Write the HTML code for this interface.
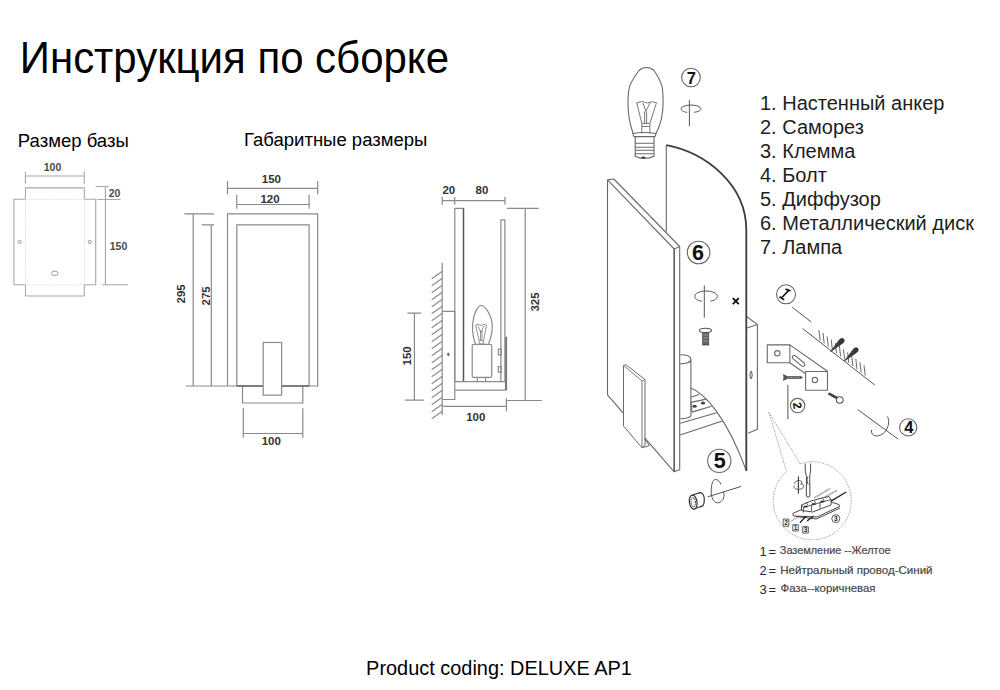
<!DOCTYPE html>
<html><head><meta charset="utf-8">
<style>
html,body{margin:0;padding:0;background:#fff;width:1000px;height:690px;overflow:hidden}
svg{position:absolute;left:0;top:0;display:block}
text{font-family:"Liberation Sans",sans-serif}
</style></head><body>
<svg width="1000" height="690" viewBox="0 0 1000 690">
<!-- BASE SIZE -->
<g fill="none" stroke="#a8a8a8" stroke-width="1.1">
<path d="M25.4 176H84.3M25.4 171.5V183.8M84.3 171.5V183.8"/>
<path d="M25.5 199.3V187.9H84.3V199.3M13.9 284.8V199.3H25.5M84.3 199.3H95.7V284.8H84.3V296H25.5V284.8H13.9"/>
<path d="M95.6 186.5H108.7M105.4 186.5V284.8M97 199.5H120.6M102 284.8H128"/>
</g>
<g fill="none" stroke="#e2e2e2" stroke-width="1" stroke-dasharray="2 1">
<path d="M25.5 199.3H84.3M25.5 199.3V284.8M84.3 199.3V284.8M25.5 284.8H84.3"/>
</g>
<g fill="none" stroke="#9a9a9a" stroke-width="1">
<circle cx="19.6" cy="242" r="1.6"/><circle cx="89.8" cy="242" r="1.6"/>
<ellipse cx="54.8" cy="273.3" rx="3.3" ry="2.3"/>
</g>
<!-- FRONT VIEW -->
<g fill="none" stroke="#8a8a8a" stroke-width="1.2">
<path d="M227.5 188.3H317.7M227.5 180.9V194.3M317.7 180.9V194.3"/>
<path d="M236.8 204.5H309.1M236.8 194.8V208.7M309.1 194.8V208.7"/>
<path d="M227.5 386V213.8H317.7V386M236.8 386V224.9H309.1V386"/>
<path d="M185.8 386H318.4"/>
<path d="M193.2 386V213.8M184.4 213.8H214M211.3 386V224.9M201.8 224.9H214"/>
<path d="M242.5 386V403H302.8V386"/>
<path d="M243.3 408.3V437.8M302.8 408.3V437.8M243.3 433.5H302.8"/>
</g>
<path d="M236.8 386H263.2M281.6 386H309.1" stroke="#666" stroke-width="1.6"/>
<rect x="263.2" y="342.5" width="18.4" height="52.7" fill="#fff" stroke="#8a8a8a" stroke-width="1.2"/>
<!-- SIDE VIEW -->
<g fill="none" stroke="#8a8a8a" stroke-width="1.2">
<path d="M442.2 200.6H505M442.2 196.7V204.8M454.7 196.7V204.8M505 196.7V204.8"/>
<path d="M507 208.3H538.7M525.2 208.3V400.5M507 400.5H542"/>
<path d="M454.8 381.7V208.3H463.5"/>
<path d="M500.9 381.7V219.9H504.9V381.7"/>
<path d="M442.2 262.7V415"/>
<path d="M442.2 311.3H454.8V399.5H442.2"/>
<path d="M407.4 313.2H421.3M414.4 313.2V400.2M405 400.2H423.9"/>
<path d="M454.8 381.7H505.7V390.1H454.8"/>
<path d="M442.2 406.4H506.4M506.4 398.3V411.3"/>
<rect x="498.3" y="349.2" width="2.9" height="5.6"/><rect x="498.3" y="366.6" width="2.9" height="5.6"/>
<rect x="472.2" y="344.3" width="19.5" height="33.1" rx="1.5"/>
<path d="M477.4 377.4V381.4M485.6 377.4V381.4"/>
<path d="M475.5 343.8C473 338 472.3 331 472.5 325C473 314 478 305.5 481.1 305.5C484.5 305.5 491.5 314 492.2 325C492.5 331 491 338 488.5 343.8"/>
<path d="M475.5 325.2L479.2 340.6M486.6 325.2L483.5 340.6M475.5 325.2L478 324.3L481 325.5L484 324.3L486.6 325.2M478 325.8L481 333L484 325.8M480.5 330V340.6M482 330V340.6M479.2 340.6H483.5V343.8H479.2Z" stroke-width="0.9"/>
</g>
<path d="M463.5 208.3V381" stroke="#555" stroke-width="1.5"/>
<path d="M506.1 336.8V390.2" stroke="#777" stroke-width="2"/>
<path d="M448.3 352.2L449.8 354.3L448.3 356.4L446.8 354.3Z" fill="#666"/>
<path d="M442.3 271.2L431.7 278.7M442.3 278.2L431.7 285.7M442.3 285.2L431.7 292.7M442.3 292.2L431.7 299.7M442.3 299.2L431.7 306.7M442.3 306.2L431.7 313.7M442.3 313.2L431.7 320.7M442.3 320.2L431.7 327.7M442.3 327.2L431.7 334.7M442.3 334.2L431.7 341.7M442.3 341.2L431.7 348.7M442.3 348.2L431.7 355.7M442.3 355.2L431.7 362.7M442.3 362.2L431.7 369.7M442.3 369.2L431.7 376.7M442.3 376.2L431.7 383.7M442.3 383.2L431.7 390.7M442.3 390.2L431.7 397.7M442.3 397.2L431.7 404.7M442.3 404.2L431.7 411.7M442.3 411.2L431.7 418.7" fill="none" stroke="#8a8a8a" stroke-width="1.1"/>
<!-- dimension text -->
<g fill="#4a4a4a" font-size="10.5" font-weight="bold" text-anchor="middle">
<text x="52.5" y="170.6">100</text>
<text x="114.6" y="196.8">20</text>
<text x="118.5" y="249.5">150</text>
</g>
<g fill="#333" font-size="11.5" font-weight="bold" text-anchor="middle">
<text x="271.35" y="183">150</text>
<text x="270" y="202.7">120</text>
<text x="271.3" y="444.8">100</text>
<text x="448.85" y="194.1">20</text>
<text x="482" y="193.6">80</text>
<text x="475.8" y="420.9">100</text>
<text transform="translate(185.3 293.9) rotate(-90)">295</text>
<text transform="translate(209.6 295.9) rotate(-90)">275</text>
<text transform="translate(539.0 302.0) rotate(-90)">325</text>
<text transform="translate(411.4 355.9) rotate(-90)">150</text>
</g>

<!-- EXPLODED VIEW -->
<g fill="none" stroke="#6a6a6a" stroke-width="1.1" stroke-linejoin="round">
<!-- bulb -->
<path d="M633.2 133.5C630 125 628 115 628 103C628 88 629 84 639 70.5C643 66.5 650 66.5 654 70.5C663 84 663.1 88 663.1 103C663.1 115 660.5 125 656 133.5"/>
<path d="M632.7 133.5Q644.4 131.5 656 133.5L655 136.6H634Z"/>
<path d="M635.2 136.6V155.9M654 136.6V155.9M635.2 143.2H654M635.2 147.2H654M635.2 150.3H654M635.2 153.8H654"/>
<path d="M634.5 155.9Q644.3 161 654.5 155.9"/>
<path d="M636.7 102.6L641.8 123.4M656.5 102.6L649.9 123.4M636.7 102.6L642.8 101.6L647.4 103L651.5 101.8L656.5 102.6M643 103L645.8 111.5L650 103M644.6 111.5V123.4M646.6 111.5V123.4M641.8 123.4H649.9V126.4H641.8ZM641.8 126.4V133.5M649.9 126.4V133.5" stroke-width="0.9"/>
<!-- diffuser -->
<path d="M666.3 231.6V145.2"/>
<!-- front plate -->
<path d="M607.5 394.9V179.9L613.8 179L679.7 246.5L674.2 249L607.5 179.9M674.2 249V471.8L679.7 469.8V246.5M607.5 394.9L674.2 471.8"/>
<!-- cylinder & disk -->
<path d="M680.2 354.8C687 354.8 690.9 356.8 690.9 359.3C690.9 361.8 687 363.9 680.2 363.9M690.9 359.3V415.4C690.9 417 686 418.7 680.2 418.7"/>
<path d="M690.9 397.2L699.1 394.5M690.9 402.4L706.3 399.1M692 412.1L711.5 406.3M690.9 402.4L692 412.1M680.2 423.2L716.7 412.8M680.2 435L722.3 421"/>
<path d="M690.3 387.7C705 393 727 418 746 469.8"/>
<!-- right bracket -->
<path d="M747 316.7L757.4 324.6L747 328M757.4 324.6V429.2L748.1 433.3"/>
<path d="M751.1 371.2Q753.3 374.9 751.1 378.6Q748.9 374.9 751.1 371.2Z"/>
</g>
<path d="M666.3 145.2C706.1 152.7 746.3 184.8 746.3 230V471" fill="none" stroke="#3c3c3c" stroke-width="1.8"/>
<path d="M674.2 249V471.8" fill="none" stroke="#555" stroke-width="1.2"/>
<g fill="#444"><ellipse cx="694.6" cy="406.3" rx="2.2" ry="1.5"/><ellipse cx="703" cy="403" rx="2.2" ry="1.5"/><ellipse cx="643.3" cy="157.4" rx="2.3" ry="1"/></g>
<!-- holder plate (white fill covers plate diagonal) -->
<path d="M623.5 426V365.4L625.8 364.6L645 379.6V445.4L642 447.8Z" fill="#fff" stroke="#6a6a6a" stroke-width="1" stroke-linejoin="round"/>
<path d="M623.5 365.4L642 381.1V447.8M642 381.1L645 379.6" fill="none" stroke="#6a6a6a" stroke-width="0.9"/>
<path d="M644.2 438.3L649.3 445.6L642 447.8" fill="none" stroke="#6a6a6a" stroke-width="1"/>
<!-- circles with numbers -->
<g fill="none" stroke="#666" stroke-width="1.1">
<circle cx="691" cy="77.5" r="9.3"/>
<circle cx="698.6" cy="252.5" r="11.3"/>
<circle cx="719.3" cy="460.9" r="11.6"/>
<circle cx="786" cy="294.3" r="9.5"/>
<circle cx="797.6" cy="405.6" r="7.2"/>
<circle cx="908.2" cy="427.4" r="8.6"/>
</g>
<g fill="#111" font-weight="bold" text-anchor="middle">
<text x="691.3" y="83.5" font-size="16.5">7</text>
<text x="698" y="259.7" font-size="21.5">6</text>
<text x="719.8" y="468.4" font-size="21.5">5</text>
<text x="908.9" y="432.8" font-size="16.5">4</text>
<text transform="translate(797.6 405.6) rotate(80)" y="4.3" font-size="12">2</text>
</g>
<path d="M789 290.2L781.4 298M785.5 289.1L789.8 290.5L790.2 290M779.5 296.7L784.2 299.9" fill="none" stroke="#151515" stroke-width="1.7"/>
<!-- rotation symbols -->
<g fill="none" stroke="#555" stroke-width="1">
<path d="M689.4 100.1V126"/>
<path d="M687.2 112.4C683 111.8 681.1 110.3 681.1 108.8C681.1 106.8 685.5 105.1 691 105.1C696.5 105.1 700.9 106.8 700.9 108.8C700.9 110.5 698 111.9 694 112.3"/>
<path d="M704.3 285.4V317.6"/>
<path d="M702 301.2C697 300.6 694.8 298.5 694.8 296.2C694.8 293.3 699.8 291 706 291C712.3 291 717.4 293.3 717.4 296.2C717.4 298.6 714.5 300.5 710.4 301.1"/>
<path d="M707.7 496.8L741.3 486.4"/>
<path d="M721 484.5C719.5 481 717.5 479.5 715.5 479.5C712.5 479.5 711.2 485 711.2 491C711.2 497.5 713.5 502.8 717.5 502.8C721.5 502.8 724 499 724 495C724 494 723.7 493 723.3 492"/>
<path d="M857.7 409.6L898.3 439.2"/>
<path d="M887.5 416.5C890 421 888.5 430 882.5 434C877 437.5 871 436.5 871.5 430"/>
<path d="M792.2 307.2L811.3 322"/>
<path d="M802.6 328.5L874.8 385.1"/>
<path d="M787.9 384.8V419.2"/>
<path d="M798.4 476.5V493.5M801 483.5C804.5 484 804.5 488 801 489C797 490 793 488.5 794 485.5" stroke-width="0.9"/>
</g>
<!-- x mark -->
<path d="M732.8 298.2L738.8 304.2M738.8 298.2L732.8 304.2" stroke="#111" stroke-width="1.9"/>
<!-- center screw -->
<rect x="702.7" y="332" width="6" height="13" fill="#666" stroke="#444" stroke-width="0.8"/>
<path d="M703.2 335H708.2M703.2 338H708.2M703.2 341H708.2" stroke="#aaa" stroke-width="0.7"/>
<ellipse cx="705.5" cy="330.4" rx="6" ry="2.1" fill="#fff" stroke="#555" stroke-width="1.1"/>
<!-- wall hatches -->
<path d="M818.9 330L820.2 340.5M823 333L824.2 343.6M827.1 336.5L828.3 346.8M831.2 339.6L832.4 350M835.3 342.9L836.5 353.2M839.4 346L840.6 356.4M843.5 349.3L844.7 359.6M847.6 352.4L848.8 362.8M851.7 355.7L852.9 366M855.8 358.8L857 369.2M859.9 362.1L861.1 372.4M864 365.2L865.2 375.6" fill="none" stroke="#6a6a6a" stroke-width="1"/>
<path id="anc" d="M830.6 351.6L839.6 339.6C841 338 843.5 338.2 844 339.6C844.6 341.2 843.6 342.6 842.6 343.2Z" fill="#333" stroke="#333" stroke-width="0.8" stroke-linejoin="round"/><use href="#anc" x="14" y="9.3"/>
<path d="M834 348.3L840.5 341.5M848 357.6L854.5 350.8" stroke="#999" stroke-width="0.6" stroke-dasharray="1 1.2"/>
<!-- bracket -->
<g fill="none" stroke="#6a6a6a" stroke-width="1.1" stroke-linejoin="round">
<path d="M767.3 344.9H789.9V362.8H767.3Z"/>
<path d="M789.9 344.9L827.5 371.3M789.9 362.8L805.6 373.8"/>
<path d="M805.6 371.5H827.5V390.2H805.6Z"/>
<circle cx="777.3" cy="353.3" r="2.7"/>
<circle cx="814.9" cy="380.1" r="2.7"/>
<rect x="791.1" y="359" width="15" height="3.8" rx="1.9" transform="rotate(39 798.6 360.9)"/>
</g>
<!-- screw 2 -->
<path d="M783.3 374.6Q784.6 377.5 783.3 380.4L787.5 378.5H801L802.6 377.5L801 376.5H787.5Z" fill="#555" stroke="#444" stroke-width="0.6"/>
<path d="M788 377.5H800.5" stroke="#ddd" stroke-width="0.6" stroke-dasharray="0.8 0.8"/>
<!-- bolt 4 -->
<path d="M829.4 393.8L837 398" stroke="#444" stroke-width="2.6" stroke-linecap="round"/>
<circle cx="839.8" cy="400" r="3.3" fill="#fff" stroke="#555" stroke-width="1.1"/>
<!-- knob 5 -->
<g fill="#fff" stroke="#333" stroke-width="1.2">
<path d="M692.5 495L700 492.6C702.8 492.6 704.3 496 704.3 499.7C704.3 503.5 702.8 506.8 700 506.8L693.5 509.2"/>
<ellipse cx="693.2" cy="502.1" rx="3.8" ry="7" transform="rotate(-8 693.2 502.1)"/>
<ellipse cx="693.2" cy="502.1" rx="2.2" ry="4.4" stroke="#444" stroke-width="1" stroke-dasharray="1.2 0.6" transform="rotate(-8 693.2 502.1)"/>
</g>
<!-- dashed detail circle -->
<g fill="none" stroke="#999" stroke-width="0.9" stroke-dasharray="1.6 1.2">
<path d="M768.9 412.2L786.5 471.5M768.9 412.2L800.2 463.7"/>
<path d="M800.2 463.7A39 39 0 1 1 786.5 471.5"/>
</g>
<!-- screwdriver and terminal -->
<g fill="none" stroke="#333" stroke-width="0.9" stroke-linejoin="round">
<path d="M805.2 463.5V469C805.2 473 806.8 475 806.5 479.5C806.3 485 806.3 491 806.4 496C806.6 497.5 809.6 497.5 809.8 496C810 491 809.9 485 809.7 479.5C809.5 475 810.6 473 810.6 469V463.5"/>
<path d="M808 476.5C806.5 479 806.8 482.5 808.3 484.5"/>
<path d="M798.4 476.5V493.5M794.5 484C794.5 481.5 797 480.5 799.5 480.5C802 480.5 802.5 483.5 800.5 485" stroke-width="0.8"/>
<path d="M814.3 497.9L830.2 488.4M821.5 499.1L837 490.4" stroke="#777" stroke-width="1.6" stroke-dasharray="0.8 0.6"/>
<path d="M831 501.1L846.2 492" stroke="#222" stroke-width="1.4"/>
<path d="M792.8 513.5L810 505.5M792.8 513.5L793.5 516L817 517L839.5 506.5L839 504.5L829 501.5M796 516.5L816.5 519L840 508" fill="#fff"/>
<path d="M801.5 510.5V505L811 501L820 498.5L829 496.5L831 499.5V505L812.5 512Z" fill="#fff"/>
<path d="M801.5 505L803.5 507.5L831 499.5M803.5 507.5V512.5M811.5 504.5V511M820 502V508.5M806 502.5L808 505M814 500.5L816 503M822.5 498.5L824.5 501" stroke-width="0.8"/>
<path d="M804 506.5H807.5M812 504H815.5M820.5 501.5H824" stroke="#222" stroke-width="1.4"/>
<path d="M790.8 521.5L798.3 517.1" stroke="#999" stroke-width="1.4" stroke-dasharray="0.8 0.6"/>
<path d="M799.9 522.7L806.3 515.9M807.1 521.1L813.5 515.9" stroke="#222" stroke-width="1.3"/>
<rect x="783.2" y="519.1" width="5.6" height="7.2" stroke-width="0.8"/>
<rect x="792.8" y="524.7" width="5.5" height="6.3" stroke-width="0.8"/>
<rect x="802.7" y="526.7" width="5.6" height="6.3" stroke-width="0.8"/>
<circle cx="835.8" cy="518.7" r="4" stroke-width="0.8"/>
</g>
<g fill="#222" font-size="6.5" font-weight="bold" text-anchor="middle">
<text x="786" y="525.2">2</text><text x="795.5" y="530.2">1</text><text x="805.5" y="532.2">3</text><text x="835.8" y="521">3</text>
</g>
<!-- TEXT -->
<g fill="#000">
<text x="19.8" y="73" font-size="45" textLength="429.2" lengthAdjust="spacingAndGlyphs">Инструкция по сборке</text>
<text x="17.8" y="146.5" font-size="18" textLength="111" lengthAdjust="spacingAndGlyphs">Размер базы</text>
<text x="244" y="146.4" font-size="18" textLength="183.4" lengthAdjust="spacingAndGlyphs">Габаритные размеры</text>
<text x="366.1" y="675" font-size="21" textLength="265.8" lengthAdjust="spacingAndGlyphs">Product coding: DELUXE AP1</text>
</g>
<g fill="#1e1e1e" font-size="20">
<text x="760" y="109.8">1. Настенный анкер</text>
<text x="760" y="133.8">2. Саморез</text>
<text x="760" y="157.8">3. Клемма</text>
<text x="760" y="181.8">4. Болт</text>
<text x="760" y="205.8">5. Диффузор</text>
<text x="760" y="229.8">6. Металлический диск</text>
<text x="760" y="253.8">7. Лампа</text>
</g>
<g fill="#2a2a2a" font-size="13" letter-spacing="1.6">
<text x="759.6" y="555.7">1=</text>
<text x="759.6" y="574.8">2=</text>
<text x="759.6" y="593.5">3=</text>
</g>
<g fill="#3a3a3a" font-size="10.5" stroke="#666" stroke-width="0.2">
<text x="779.8" y="554.1" textLength="110.8" lengthAdjust="spacingAndGlyphs">Заземление --Желтое</text>
<text x="780.2" y="573.5" textLength="152.4" lengthAdjust="spacingAndGlyphs">Нейтральный провод-Синий</text>
<text x="780.5" y="592.4" textLength="95" lengthAdjust="spacingAndGlyphs">Фаза--коричневая</text>
</g>
</svg>
</body></html>
